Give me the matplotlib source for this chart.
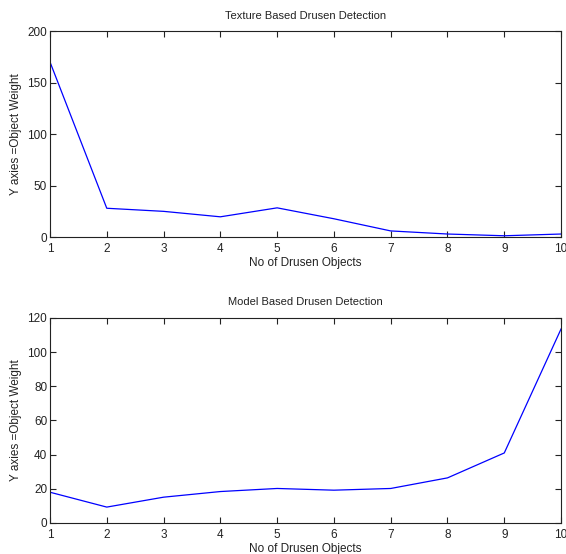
import matplotlib
matplotlib.use("Agg")
import matplotlib.pyplot as plt

# Data
objects = [1, 2, 3, 4, 5, 6, 7, 8, 9, 10]
texture_weight = [170, 28, 25, 19.7, 28.4, 17.8, 6, 3, 1.3, 3]
model_weight = [18, 9.3, 15.1, 18.4, 20.2, 19.2, 20.2, 26.4, 41, 113.6]

plt.rcParams["font.family"] = ["Liberation Sans", "DejaVu Sans"]
plt.rcParams["font.size"] = 8

fig = plt.figure(figsize=(5.66, 5.54), dpi=100)
ax1 = fig.add_axes([0.0883, 0.572, 0.903, 0.372])
ax2 = fig.add_axes([0.0883, 0.056, 0.903, 0.370])

panels = [
    (ax1, texture_weight, "Texture Based Drusen Detection", (0, 200), range(0, 201, 50)),
    (ax2, model_weight, "Model Based Drusen Detection", (0, 120), range(0, 121, 20)),
]

for ax, vals, title, ylim, yticks in panels:
    ax.plot(objects, vals, color="blue", linewidth=0.9)
    ax.set_xlim(1, 10)
    ax.set_ylim(*ylim)
    ax.set_xticks(objects)
    ax.set_yticks(list(yticks))
    ax.tick_params(direction="in", top=True, right=True, length=4, width=0.8,
                   labelsize=8.5, colors="#222222")
    ax.tick_params(axis="x", pad=4)
    ax.tick_params(axis="y", pad=2)
    for s in ax.spines.values():
        s.set_linewidth(0.8)
        s.set_color("#222222")
    ax.set_title(title, fontsize=8, pad=9, color="#222222")
    ax.set_xlabel("No of Drusen Objects", fontsize=8.5, labelpad=2, color="#222222")
    ax.set_ylabel("Y axies =Object Weight", fontsize=8.5, labelpad=4, color="#222222")

fig.savefig("out.png", dpi=100)
